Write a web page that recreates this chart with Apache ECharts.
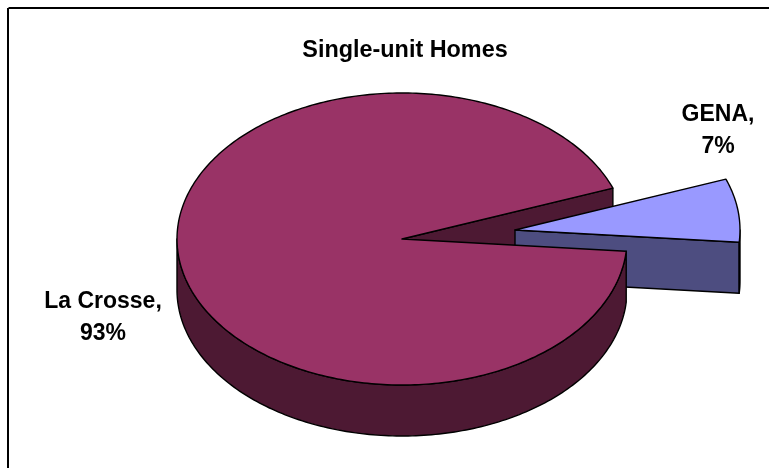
<!DOCTYPE html>
<html>
<head>
<meta charset="utf-8">
<style>html,body{margin:0;padding:0;background:#fff}#c{width:769px;height:468px}</style>
<script src="https://cdn.jsdelivr.net/npm/echarts@6/dist/echarts.min.js"></script>
</head>
<body>
<div id="c"></div>
<script>
var titleText = 'Single-unit Homes';
var categories = ['La Crosse', 'GENA'];
var values = [93, 7];

var FONT = '"Liberation Sans", Arial, sans-serif';
var CX = 402, CY = 239, RX = 225, RY = 146, DEPTH = 51, START = 20.4;
var EXPLODE = { 'GENA': [113, -9] };
var TOPS = { 'La Crosse': '#993366', 'GENA': '#9999ff' };
var WALLS = { 'La Crosse': '#4d1933', 'GENA': '#4d4d80' };
var LABELS = { 'La Crosse': [103, 318], 'GENA': [718, 131] };
var total = values.reduce(function (a, b) { return a + b; }, 0);

function pt(cx, cy, deg, dy) {
  var r = deg * Math.PI / 180;
  return [cx + RX * Math.cos(r), cy - RY * Math.sin(r) + (dy || 0)];
}
function arc(cx, cy, from, to, dy) {
  var out = [], n = Math.max(2, Math.ceil(Math.abs(to - from))), i;
  for (i = 0; i <= n; i++) out.push(pt(cx, cy, from + (to - from) * i / n, dy));
  return out;
}
function poly(points, fill, z2) {
  return {
    type: 'polygon', z2: z2, silent: true,
    shape: { points: points },
    style: { fill: fill, stroke: '#000', lineWidth: 1.4, lineJoin: 'round' }
  };
}

function renderItem(params, api) {
  var name = categories[params.dataIndex];
  var value = api.value(0);
  var span = value / total * 360;
  var off = EXPLODE[name] || [0, 0];
  var cx = CX + off[0], cy = CY + off[1];
  var top = TOPS[name], wall = WALLS[name];
  var children = [];
  var lab = LABELS[name];
  if (name === 'GENA') {
    var a0 = START, a1 = START - span;
    var e = pt(cx, cy, a1);
    children.push(poly([[cx, cy], e, [e[0], e[1] + DEPTH], [cx, cy + DEPTH]], wall, 2));
    var sideTop = arc(cx, cy, 0, a1), sideBot = arc(cx, cy, a1, 0, DEPTH);
    children.push(poly(sideTop.concat(sideBot), wall, 2));
    children.push(poly([[cx, cy]].concat(arc(cx, cy, a0, a1)), top, 3));
  } else {
    var b0 = START - (total - value) / total * 360;
    var b1 = START - 360;
    var s = pt(cx, cy, b1);
    children.push(poly([[cx, cy], s, [s[0], s[1] + DEPTH], [cx, cy + DEPTH]], wall, 1));
    var frontTop = arc(cx, cy, b0, -180), frontBot = arc(cx, cy, -180, b0, DEPTH);
    children.push(poly(frontTop.concat(frontBot), wall, 4));
    children.push(poly([[cx, cy]].concat(arc(cx, cy, b0, b1)), top, 5));
  }
  children.push({
    type: 'text', z2: 10, silent: true,
    style: {
      x: lab[0], y: lab[1], text: name + ',\n' + value + '%',
      fill: '#000', font: 'bold 23px ' + FONT, align: 'center',
      verticalAlign: 'middle', lineHeight: 32
    }
  });
  return { type: 'group', children: children };
}

var chart = echarts.init(document.getElementById('c'), null, { renderer: 'canvas' });
chart.setOption({
  animation: false,
  backgroundColor: '#fff',
  title: {
    text: titleText, left: 400, top: 34, textAlign: 'center',
    textStyle: { fontFamily: FONT, fontWeight: 'bold', fontSize: 23.4, color: '#000' }
  },
  graphic: [
    { type: 'line', silent: true, shape: { x1: 8.5, y1: 8, x2: 769, y2: 8 }, style: { stroke: '#000', lineWidth: 2 } },
    { type: 'line', silent: true, shape: { x1: 8, y1: 8, x2: 8, y2: 468 }, style: { stroke: '#000', lineWidth: 2 } }
  ],
  series: [{
    type: 'custom',
    coordinateSystem: 'none',
    renderItem: renderItem,
    data: values,
    silent: true
  }]
});
</script>
</body>
</html>
